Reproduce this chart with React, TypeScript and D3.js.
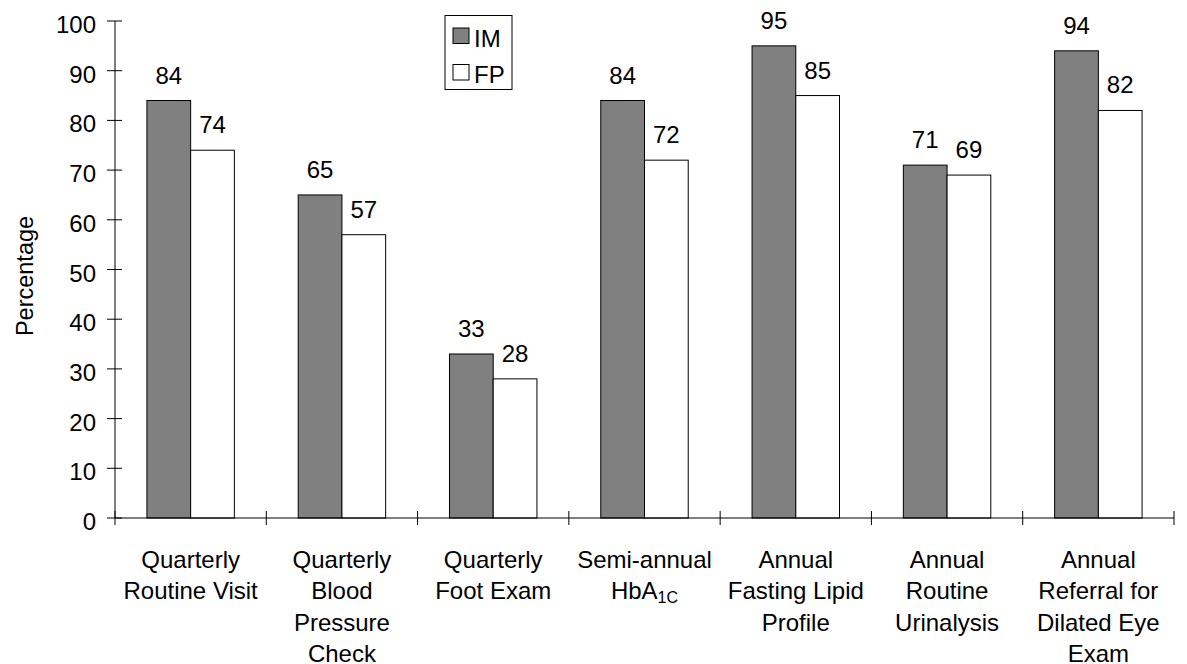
import React from 'react';
import * as d3 from 'd3';

// chart data
const categories = ['QRV', 'QBP', 'QFE', 'SAH', 'AFL', 'ARU', 'ARD'];
const categoryLines = [
  ['Quarterly', 'Routine Visit'],
  ['Quarterly', 'Blood', 'Pressure', 'Check'],
  ['Quarterly', 'Foot Exam'],
  ['Semi-annual', 'HbA|1C'],
  ['Annual', 'Fasting Lipid', 'Profile'],
  ['Annual', 'Routine', 'Urinalysis'],
  ['Annual', 'Referral for', 'Dilated Eye', 'Exam'],
];
const seriesNames = ['IM', 'FP'];
const imValues = [84, 65, 33, 84, 95, 71, 94];
const fpValues = [74, 57, 28, 72, 85, 69, 82];
const yTicks = [0, 10, 20, 30, 40, 50, 60, 70, 80, 90, 100];

const W = 1187;
const H = 664;
const FONT = '"Liberation Sans", Arial, sans-serif';
const FILLS: Record<string, string> = { IM: '#808080', FP: '#ffffff' };

const App = () => {
  const y = d3.scaleLinear().domain([0, 100]).range([518, 21]);
  const x = d3.scaleBand<string>().domain(categories).range([115, 1174]);
  const x1 = d3
    .scaleBand<string>()
    .domain(seriesNames)
    .range([0, x.bandwidth()])
    .paddingInner(0)
    .paddingOuter(0.73);

  const values: Record<string, number[]> = { IM: imValues, FP: fpValues };
  const bounds = [...categories.map((c) => x(c) as number), 1174];

  return (
    <svg
      width={W}
      height={H}
      style={{ position: 'absolute', left: 0, top: 0, background: '#fff' }}
      fontFamily={FONT}
    >
      {/* bars */}
      {categories.map((c, i) => (
        <g key={c} transform={`translate(${x(c)},0)`}>
          {seriesNames.map((s) => {
            const v = values[s][i];
            const bx = x1(s) as number;
            return (
              <g key={s}>
                <rect
                  x={bx}
                  y={y(v)}
                  width={x1.bandwidth()}
                  height={y(0) - y(v)}
                  fill={FILLS[s]}
                  stroke="#000"
                  strokeWidth={1}
                />
                <text
                  x={bx + x1.bandwidth() / 2}
                  y={y(v) - 17}
                  textAnchor="middle"
                  fontSize={24}
                  fill="#000"
                >
                  {v}
                </text>
              </g>
            );
          })}
        </g>
      ))}

      {/* y axis */}
      <line x1={115} x2={115} y1={y(100)} y2={y(0)} stroke="#000" />
      {yTicks.map((t) => (
        <g key={t}>
          <line x1={107} x2={122} y1={y(t)} y2={y(t)} stroke="#000" />
          <text x={96} y={y(t) + 12} textAnchor="end" fontSize={24} fill="#000">
            {t}
          </text>
        </g>
      ))}
      <text
        transform={`translate(33,276) rotate(-90)`}
        textAnchor="middle"
        fontSize={23.5}
        fill="#000"
      >
        Percentage
      </text>

      {/* x axis */}
      <line x1={115} x2={1174} y1={y(0)} y2={y(0)} stroke="#000" />
      {bounds.map((b, i) => (
        <line key={i} x1={b} x2={b} y1={511} y2={525} stroke="#000" />
      ))}
      {categories.map((c, i) => (
        <text
          key={c}
          x={(x(c) as number) + x.bandwidth() / 2}
          textAnchor="middle"
          fontSize={24}
          fill="#000"
        >
          {categoryLines[i].map((line, j) => {
            const [main, sub] = line.split('|');
            return (
              <tspan key={j} x={(x(c) as number) + x.bandwidth() / 2} y={568 + j * 31.3}>
                {main}
                {sub && (
                  <tspan fontSize={16} dy={4}>
                    {sub}
                  </tspan>
                )}
              </tspan>
            );
          })}
        </text>
      ))}

      {/* legend */}
      <rect x={445} y={15.5} width={67} height={74} fill="#fff" stroke="#000" />
      {seriesNames.map((s, i) => (
        <g key={s} transform={`translate(0,${i * 36.5})`}>
          <rect x={453} y={28} width={16} height={15.5} fill={FILLS[s]} stroke="#000" />
          <text x={474} y={46.5} fontSize={24} fill="#000">
            {s}
          </text>
        </g>
      ))}
    </svg>
  );
};

export default App;
